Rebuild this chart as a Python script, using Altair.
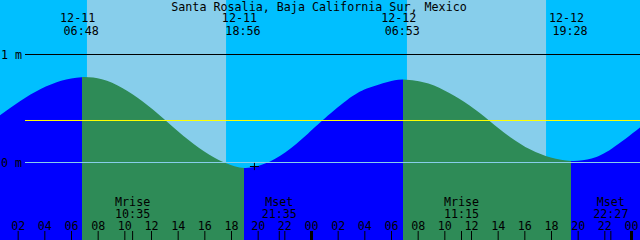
import altair as alt
import pandas as pd

FONT = "DejaVu Sans Mono"
FS = 11.7

title_text = "Santa Rosalia, Baja California Sur, Mexico"

# tide curve: hours since 12-11 00:00, height in metres
tide_hours = [0.6375, 2.16, 3.69, 5.22, 6.75, 8.28, 9.81, 11.34, 12.87, 14.40,
              15.93, 17.46, 18.99, 20.52, 22.05, 23.58, 24.81, 26.65, 28.15,
              29.71, 30.93, 32.77, 34.30, 35.83, 37.36, 38.89, 40.42, 41.95,
              43.48, 45.01, 46.54, 48.6375]
tide_m = [0.438, 0.570, 0.680, 0.757, 0.790, 0.770, 0.690, 0.565, 0.410, 0.245,
          0.105, 0.000, -0.050, -0.010, 0.095, 0.250, 0.389, 0.577, 0.685,
          0.746, 0.769, 0.731, 0.645, 0.530, 0.385, 0.237, 0.120, 0.046,
          0.015, 0.037, 0.130, 0.324]

# sunrise / sunset
sun_hours = [6.8, 18.9333, 30.8833, 43.4667]
sun_dates = ["12-11", "12-11", "12-12", "12-12"]
sun_times = ["06:48", "18:56", "06:53", "19:28"]

# moonrise / moonset
moon_hours = [10.5833, 21.5833, 35.25, 46.45]
moon_names = ["Mrise", "Mset", "Mrise", "Mset"]
moon_times = ["10:35", "21:35", "11:15", "22:27"]

# light sky bands
band_start = [7.16, 31.16]
band_end = [17.59, 41.59]

# hour ticks
tick_hours = [2, 4, 6, 8, 10, 12, 14, 16, 18, 20, 22, 24,
              26, 28, 30, 32, 34, 36, 38, 40, 42, 44, 46, 48]
tick_labels = ["02", "04", "06", "08", "10", "12", "14", "16", "18", "20", "22", "00",
               "02", "04", "06", "08", "10", "12", "14", "16", "18", "20", "22", "00"]

# reference levels
level_m = [1.0, 0.0, 0.389]
level_colors = ["#000000", "#87CEEB", "#FFFF00"]
level_labels = ["1 m", "0 m", ""]

marker_hour = [19.72]
marker_m = [-0.037]

X0, X1 = 0.6375, 48.6375
Y0, Y1 = -0.71759, 1.50463

xs = alt.Scale(domain=[X0, X1], nice=False, zero=False)
ys = alt.Scale(domain=[Y0, Y1], nice=False, zero=False)

def X(f):
    return alt.X(f, type="quantitative", scale=xs, axis=None)

def Y(f):
    return alt.Y(f, type="quantitative", scale=ys, axis=None)

tide_df = pd.DataFrame({"t": tide_hours, "m": tide_m})
band_df = pd.DataFrame({"t": band_start, "t2": band_end})
sun_df = pd.DataFrame({"t": sun_hours, "d": sun_dates, "tm": sun_times})
moon_df = pd.DataFrame({"t": moon_hours, "n": moon_names, "tm": moon_times})
tick_df = pd.DataFrame({"t": tick_hours, "lab": tick_labels,
                        "w": [3 if l == "00" else 1 for l in tick_labels]})
lvl_df = pd.DataFrame({"m": level_m, "c": level_colors, "lab": level_labels})
mk_df = pd.DataFrame({"t": marker_hour, "m": marker_m})

NIGHT_WATER = "#0000FF"
DAY_WATER = "#2E8B57"
offs = [(h - X0) / (X1 - X0) for h in sun_hours]
stops = [alt.GradientStop(color=NIGHT_WATER, offset=0)]
for i in range(0, len(offs), 2):
    stops += [alt.GradientStop(color=NIGHT_WATER, offset=offs[i]),
              alt.GradientStop(color=DAY_WATER, offset=offs[i]),
              alt.GradientStop(color=DAY_WATER, offset=offs[i + 1]),
              alt.GradientStop(color=NIGHT_WATER, offset=offs[i + 1])]
stops.append(alt.GradientStop(color=NIGHT_WATER, offset=1))
grad = alt.LinearGradient(gradient="linear", stops=stops, x1=0, x2=1, y1=0, y2=0)

bands = alt.Chart(band_df).mark_rect(color="#87CEEB").encode(
    x=X("t"), x2="t2", y=alt.value(0), y2=alt.value(240))

water = alt.Chart(tide_df).mark_area(fill=grad, interpolate="natural").encode(
    x=X("t"), y=Y("m"), y2=alt.datum(Y0))

levels = alt.Chart(lvl_df).mark_rule(strokeWidth=1).encode(
    x=alt.value(25), x2=alt.value(640), y=Y("m"),
    color=alt.Color("c:N", scale=None))

level_txt = alt.Chart(lvl_df).mark_text(font=FONT, fontSize=FS, align="left",
                                        baseline="middle", color="black").encode(
    x=alt.value(1), y=Y("m"), text="lab:N")

title = alt.Chart(pd.DataFrame({"s": [title_text]})).mark_text(
    font=FONT, fontSize=FS, align="center", baseline="alphabetic", color="black").encode(
    x=alt.value(319), y=alt.value(10.5), text="s:N")

sun_d = alt.Chart(sun_df).mark_text(font=FONT, fontSize=FS, align="center",
                                    baseline="alphabetic", color="black", dx=-4.5).encode(
    x=X("t"), y=alt.value(22), text="d:N")
sun_t = alt.Chart(sun_df).mark_text(font=FONT, fontSize=FS, align="center",
                                    baseline="alphabetic", color="black", dx=-1).encode(
    x=X("t"), y=alt.value(34.5), text="tm:N")

moon_n = alt.Chart(moon_df).mark_text(font=FONT, fontSize=FS, align="center",
                                      baseline="alphabetic", color="black").encode(
    x=X("t"), y=alt.value(206), text="n:N")
moon_t = alt.Chart(moon_df).mark_text(font=FONT, fontSize=FS, align="center",
                                      baseline="alphabetic", color="black").encode(
    x=X("t"), y=alt.value(218), text="tm:N")

ticks = alt.Chart(tick_df).mark_rule(color="black").encode(
    x=X("t"), y=alt.value(231), y2=alt.value(240),
    strokeWidth=alt.StrokeWidth("w:Q", scale=None))
moon_ticks = alt.Chart(moon_df).mark_rule(color="black", strokeWidth=1).encode(
    x=X("t"), y=alt.value(231), y2=alt.value(240))
tick_txt = alt.Chart(tick_df).mark_text(font=FONT, fontSize=FS, align="center",
                                        baseline="alphabetic", color="black").encode(
    x=X("t"), y=alt.value(230), text="lab:N")

marker = alt.Chart(mk_df).mark_point(shape="M-1,0H1M0,-0.8V0.8", size=81,
                                     filled=False, color="black", strokeWidth=1,
                                     opacity=1).encode(
    x=X("t"), y=Y("m"))

chart = alt.layer(bands, water, levels, level_txt, title, sun_d, sun_t,
                  moon_n, moon_t, ticks, moon_ticks, tick_txt, marker).properties(
    width=640, height=240, background="#00BFFF", padding=0,
    autosize=alt.AutoSizeParams(type="none")
).configure_view(stroke=None)

chart.save("out.html", embed_options={"renderer": "svg", "actions": False})
